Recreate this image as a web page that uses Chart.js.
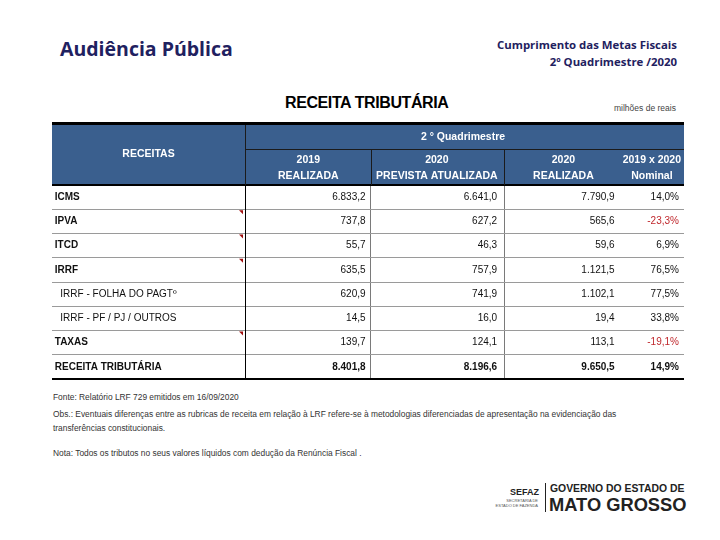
<!DOCTYPE html>
<html lang="pt-BR">
<head>
<meta charset="utf-8">
<title>Receita Tributária</title>
<script src="https://cdn.jsdelivr.net/npm/chart.js@4/dist/chart.umd.min.js"></script>
<style>
    html, body { margin: 0; padding: 0; background: #fff; }
    body { width: 720px; height: 540px; position: relative; overflow: hidden; font-family: "Liberation Sans", Arial, sans-serif; }
    .abs { position: absolute; white-space: nowrap; }
    .slide-title { left: 60px; top: 35px; font: bold 19.5px "Open Sans", "DejaVu Sans", sans-serif; color: #1f2160; }
    .slide-sub { right: 43px; top: 36px; text-align: right; font: bold 11.4px "Open Sans", "DejaVu Sans", sans-serif; color: #1f2160; line-height: 17px; }
    .tbl-title { left: 285px; top: 94px; font: bold 16px "Liberation Sans", Arial, sans-serif; color: #000; letter-spacing: -0.4px; }
    .unit { left: 614px; top: 103px; font: 8.5px "Liberation Sans", Arial, sans-serif; color: #444; }
    .note { left: 53px; font: 8.4px "Liberation Sans", Arial, sans-serif; color: #333; }
    #wrap { position: absolute; left: 52px; top: 121px; width: 632px; height: 267px; }
    .logo-sefaz { left: 510px; top: 487px; font: bold 9px "Liberation Sans", Arial, sans-serif; color: #222; }
    .logo-small { left: 490px; font: 4px "Liberation Sans", Arial, sans-serif; color: #555; text-align: right; width: 48px; }
    .logo-bar { left: 545px; top: 483px; width: 1px; height: 29px; background: #222; }
    .logo-gov { left: 550px; top: 483px; font: bold 10.4px "Liberation Sans", Arial, sans-serif; color: #222; }
    .logo-mt { left: 549px; top: 494px; font: bold 18.3px "Liberation Sans", Arial, sans-serif; color: #222; }
</style>
</head>
<body>
<div class="abs slide-title">Audiência Pública</div>
<div class="abs slide-sub">Cumprimento das Metas Fiscais<br>2º Quadrimestre /2020</div>
<div class="abs tbl-title">RECEITA TRIBUTÁRIA</div>
<div class="abs unit">milhões de reais</div>

<div id="wrap"><canvas id="tabela"></canvas></div>

<div class="abs note" style="top:392px;">Fonte: Relatório LRF 729 emitidos em 16/09/2020</div>
<div class="abs note" style="top:409px;">Obs.: Eventuais diferenças entre as rubricas de receita em relação à LRF refere-se à metodologias diferenciadas de apresentação na evidenciação das</div>
<div class="abs note" style="top:423px;">transferências constitucionais.</div>
<div class="abs note" style="top:448px;">Nota: Todos os tributos no seus valores líquidos com dedução da Renúncia Fiscal .</div>

<div class="abs logo-sefaz">SEFAZ</div>
<div class="abs logo-small" style="top:498px;">SECRETARIA DE</div>
<div class="abs logo-small" style="top:503px;">ESTADO DE FAZENDA</div>
<div class="abs logo-bar"></div>
<div class="abs logo-gov">GOVERNO DO ESTADO DE</div>
<div class="abs logo-mt">MATO GROSSO</div>

<script>
/* ---------- Data ---------- */
const receitas = ['ICMS', 'IPVA', 'ITCD', 'IRRF', 'IRRF - FOLHA DO PAGTº', 'IRRF - PF / PJ / OUTROS', 'TAXAS', 'RECEITA TRIBUTÁRIA'];
const subItem = [false, false, false, false, true, true, false, false];
const realizada2019 = [6833.2, 737.8, 55.7, 635.5, 620.9, 14.5, 139.7, 8401.8];
const prevista2020 = [6641.0, 627.2, 46.3, 757.9, 741.9, 16.0, 124.1, 8196.6];
const realizada2020 = [7790.9, 565.6, 59.6, 1121.5, 1102.1, 19.4, 113.1, 9650.5];
const variacao = [14.0, -23.3, 6.9, 76.5, 77.5, 33.8, -19.1, 14.9];

const colunas = [
    ['2019', 'REALIZADA'],
    ['2020', 'PREVISTA ATUALIZADA'],
    ['2020', 'REALIZADA'],
    ['2019 x 2020', 'Nominal']
];

/* ---------- Layout (x scale units = px from the RECEITAS column edge) ---------- */
const colRight = [120, 251, 368, 432];
const colCenter = [63, 191, 317, 405];
const colDividers = [125, 258];
const BLUE = '#3a5f8e';
const FONT = '"Liberation Sans", Arial, sans-serif';

function fmt(v) {
    const parts = Math.abs(v).toFixed(1).split('.');
    const intPart = parts[0].replace(/\B(?=(\d{3})+(?!\d))/g, '.');
    return (v < 0 ? '-' : '') + intPart + ',' + parts[1];
}

/* ---------- Header + cells plugin ---------- */
const tablePlugin = {
    id: 'tablePlugin',
    beforeDraw(chart) {
        const { ctx, chartArea: a, scales: { x } } = chart;
        const top = a.top - 60;
        ctx.save();
        // header background
        ctx.fillStyle = BLUE;
        ctx.fillRect(0, top, a.right, 60);
        // thick top line
        ctx.fillStyle = '#000';
        ctx.fillRect(0, top - 3, a.right, 3);
        ctx.fillRect(0, a.top - 1, a.right, 1.5);
        // header inner lines
        ctx.strokeStyle = '#1b1b1b';
        ctx.lineWidth = 1;
        ctx.beginPath();
        ctx.moveTo(a.left + 0.5, top); ctx.lineTo(a.left + 0.5, a.top);
        ctx.moveTo(a.left, a.top - 35.5); ctx.lineTo(a.right, a.top - 35.5);
        colDividers.forEach(v => {
            const px = Math.round(x.getPixelForValue(v)) + 0.5;
            ctx.moveTo(px, a.top - 35); ctx.lineTo(px, a.top);
        });
        ctx.stroke();
        // header text
        ctx.fillStyle = '#fff';
        ctx.font = 'bold 10.5px ' + FONT;
        ctx.textAlign = 'center';
        ctx.textBaseline = 'middle';
        ctx.fillText('RECEITAS', a.left / 2, a.top - 31);
        ctx.fillText('2 ° Quadrimestre', x.getPixelForValue(217), a.top - 48);
        colunas.forEach((c, i) => {
            const cx = x.getPixelForValue(colCenter[i]);
            ctx.fillText(c[0], cx, a.top - 25);
            ctx.fillText(c[1], cx, a.top - 9);
        });
        ctx.restore();
    },
    afterDraw(chart) {
        const { ctx, scales: { x, y } } = chart;
        ctx.save();
        ctx.textAlign = 'right';
        ctx.textBaseline = 'middle';
        receitas.forEach((r, i) => {
            const py = y.getPixelForValue(i);
            const bold = i === receitas.length - 1;
            ctx.font = (bold ? 'bold ' : '') + '10px ' + FONT;
            const cells = [realizada2019[i], prevista2020[i], realizada2020[i]];
            ctx.fillStyle = '#111';
            cells.forEach((v, j) => ctx.fillText(fmt(v), x.getPixelForValue(colRight[j]), py));
            ctx.fillStyle = (variacao[i] < 0 && !bold) ? '#c0282d' : '#111';
            ctx.fillText(fmt(variacao[i]) + '%', x.getPixelForValue(colRight[3]), py);
        });
        // small red comment markers at the top-right of some label cells
        ctx.fillStyle = '#a01010';
        [1, 2, 3, 6].forEach(i => {
            const py = (y.getPixelForValue(i - 1) + y.getPixelForValue(i)) / 2 + 1;
            const px = chart.chartArea.left - 2;
            ctx.beginPath();
            ctx.moveTo(px - 4, py); ctx.lineTo(px, py); ctx.lineTo(px, py + 4);
            ctx.closePath();
            ctx.fill();
        });
        ctx.restore();
    }
};

new Chart(document.getElementById('tabela'), {
    type: 'bar',
    data: { labels: receitas, datasets: [] },
    options: {
        indexAxis: 'y',
        responsive: true,
        maintainAspectRatio: false,
        animation: false,
        events: [],
        layout: { padding: { top: 64, bottom: 2, left: 0, right: 0 } },
        plugins: { legend: { display: false }, tooltip: { enabled: false } },
        scales: {
            x: {
                type: 'linear',
                min: 0,
                max: 437,
                afterBuildTicks: s => { s.ticks = colDividers.map(v => ({ value: v })); },
                ticks: { display: false },
                grid: { color: '#7a7a7a', drawTicks: false },
                border: { display: false }
            },
            y: {
                type: 'category',
                offset: true,
                afterFit: s => { s.width = 193; },
                ticks: {
                    crossAlign: 'far',
                    autoSkip: false,
                    color: '#111',
                    font: c => ({ family: FONT, size: 10, weight: subItem[c.index] ? 'normal' : 'bold' }),
                    callback: (v, i) => (subItem[i] ? '   ' : ' ') + receitas[i]
                },
                grid: {
                    offset: true,
                    tickLength: 193,
                    color: c => c.type === 'scale' ? '#000' : (c.index === 0 ? '#000' : '#9a9a9a'),
                    lineWidth: c => c.type === 'scale' ? 2 : 1
                },
                border: { color: '#000', width: 1 }
            }
        }
    },
    plugins: [tablePlugin]
});
</script>
</body>
</html>
